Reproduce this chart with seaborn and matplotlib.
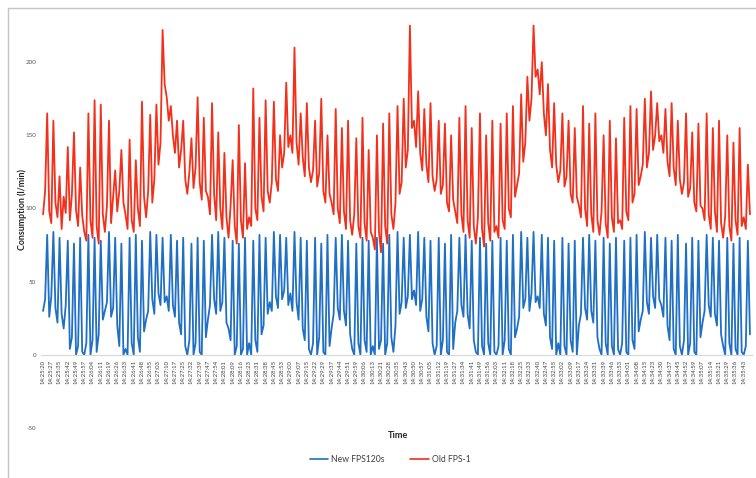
import numpy as np
import pandas as pd
import matplotlib.pyplot as plt
import matplotlib.lines as mlines
import seaborn as sns

# ── data (one sample every ~2 px, 4 samples per tick label)
time_labels = [
    "14:25:20", "14:25:27", "14:25:35", "14:25:42", "14:25:49", "14:25:57",
    "14:26:04", "14:26:11", "14:26:19", "14:26:26", "14:26:33", "14:26:41",
    "14:26:48", "14:26:55", "14:27:03", "14:27:10", "14:27:17", "14:27:25",
    "14:27:32", "14:27:39", "14:27:47", "14:27:54", "14:28:01", "14:28:09",
    "14:28:16", "14:28:23", "14:28:31", "14:28:38", "14:28:45", "14:28:53",
    "14:29:00", "14:29:07", "14:29:15", "14:29:22", "14:29:29", "14:29:37",
    "14:29:44", "14:29:51", "14:29:59", "14:30:06", "14:30:13", "14:30:21",
    "14:30:28", "14:30:35", "14:30:43", "14:30:50", "14:30:57", "14:31:05",
    "14:31:12", "14:31:19", "14:31:27", "14:31:34", "14:31:41", "14:31:49",
    "14:31:56", "14:32:03", "14:32:11", "14:32:18", "14:32:25", "14:32:33",
    "14:32:40", "14:32:47", "14:32:55", "14:33:02", "14:33:09", "14:33:17",
    "14:33:24", "14:33:31", "14:33:39", "14:33:46", "14:33:53", "14:34:01",
    "14:34:08", "14:34:15", "14:34:23", "14:34:30", "14:34:37", "14:34:45",
    "14:34:52", "14:34:59", "14:35:07", "14:35:14", "14:35:21", "14:35:29",
    "14:35:36", "14:35:43",
]

new_fps120s = [
    30, 38, 82, 26, 40, 84, 32, 22, 80, 28, 18, 34, 78, 4, 12, 76, 0, 6, 80, 2,
    0, 8, 82, 0, 10, 80, 2, 14, 78, 24, 30, 36, 84, 26, 32, 80, 20, 6, 76, 0,
    4, 0, 80, 8, 0, 82, 12, 2, 78, 16, 24, 30, 84, 38, 28, 82, 42, 34, 80, 36,
    40, 30, 82, 34, 26, 78, 22, 14, 80, 6, 0, 10, 76, 0, 8, 80, 2, 0, 78, 12,
    24, 34, 82, 38, 28, 84, 30, 36, 80, 22, 18, 10, 78, 0, 6, 76, 0, 4, 80, 0,
    8, 0, 78, 10, 2, 82, 14, 20, 80, 28, 36, 30, 84, 40, 32, 82, 38, 44, 80, 34,
    42, 30, 84, 36, 24, 80, 18, 10, 78, 4, 0, 8, 80, 0, 12, 76, 2, 0, 82, 6,
    18, 28, 80, 32, 24, 82, 30, 20, 78, 14, 4, 0, 76, 8, 0, 80, 10, 2, 78, 0,
    6, 0, 80, 4, 10, 76, 0, 8, 82, 12, 2, 20, 84, 28, 36, 80, 32, 40, 82, 38,
    44, 34, 84, 30, 38, 80, 26, 16, 78, 8, 0, 6, 80, 0, 10, 76, 2, 0, 82, 4,
    22, 30, 80, 34, 26, 82, 28, 18, 78, 10, 2, 0, 80, 6, 0, 76, 8, 0, 78, 2,
    0, 6, 80, 0, 10, 78, 4, 0, 82, 12, 18, 26, 84, 32, 38, 80, 30, 42, 84, 36,
    40, 32, 82, 28, 20, 80, 12, 4, 78, 0, 8, 0, 80, 6, 0, 76, 10, 2, 78, 0,
    20, 28, 80, 32, 24, 82, 30, 22, 78, 12, 4, 0, 80, 8, 0, 76, 6, 0, 80, 4,
    0, 8, 78, 2, 0, 80, 10, 4, 82, 16, 24, 30, 84, 36, 28, 80, 40, 32, 82, 38,
    34, 26, 80, 20, 10, 78, 4, 0, 82, 6, 0, 10, 76, 0, 8, 80, 2, 0, 78, 12,
    22, 30, 82, 34, 26, 80, 28, 20, 78, 14, 6, 0, 80, 8, 0, 76, 4, 0, 80, 2,
    0, 6, 78, 14,
]

old_fps1 = [
    96, 112, 165, 98, 90, 160, 104, 94, 122, 86, 108, 97, 142, 92, 110, 152, 99, 88, 128, 95,
    84, 78, 165, 92, 80, 174, 88, 76, 171, 96, 84, 102, 160, 90, 108, 126, 98, 112, 140, 104,
    96, 86, 147, 92, 84, 133, 100, 88, 173, 108, 94, 112, 164, 104, 120, 171, 130, 145, 222, 185,
    176, 160, 170, 150, 138, 160, 128, 140, 160, 120, 110, 125, 148, 114, 128, 176, 118, 106, 162, 112,
    108, 96, 172, 110, 92, 152, 100, 86, 138, 94, 80, 102, 133, 88, 76, 157, 92, 80, 131, 86,
    94, 88, 182, 100, 92, 162, 108, 98, 174, 112, 104, 118, 173, 120, 112, 150, 128, 138, 186, 142,
    150, 138, 210, 145, 130, 165, 135, 122, 172, 128, 118, 126, 160, 115, 124, 175, 112, 104, 150, 110,
    104, 96, 168, 100, 90, 155, 98, 86, 160, 92, 82, 96, 148, 88, 80, 162, 90, 78, 140, 84,
    80, 72, 150, 84, 70, 158, 88, 76, 165, 96, 86, 104, 170, 110, 118, 175, 128, 140, 225, 155,
    160, 142, 180, 138, 126, 168, 130, 118, 172, 122, 112, 120, 160, 110, 116, 158, 104, 98, 150, 106,
    98, 90, 162, 96, 84, 170, 92, 80, 155, 88, 76, 94, 165, 86, 74, 150, 90, 78, 160, 84,
    88, 80, 158, 92, 86, 165, 100, 94, 170, 108, 116, 124, 178, 132, 145, 190, 160, 175, 225, 190,
    195, 178, 200, 165, 150, 185, 140, 128, 172, 130, 118, 126, 165, 115, 122, 160, 110, 104, 155, 108,
    102, 94, 170, 100, 88, 158, 96, 84, 165, 92, 82, 98, 150, 90, 80, 160, 94, 84, 148, 90,
    92, 86, 162, 98, 92, 170, 104, 110, 168, 116, 122, 130, 175, 128, 138, 180, 140, 150, 172, 146,
    150, 138, 168, 132, 122, 172, 128, 116, 160, 120, 110, 118, 165, 108, 114, 152, 104, 98, 158, 102,
    100, 92, 165, 96, 86, 155, 98, 84, 160, 90, 80, 95, 150, 88, 78, 145, 92, 82, 155, 88,
    94, 86, 130, 96,
]

series_names = ["New FPS120s", "Old FPS-1"]
series_colors = ["#1f6fc5", "#f2301b"]
y_ticks = [-50, 0, 50, 100, 150, 200]

sns.set_theme(style="white")
plt.rcParams['font.family'] = ['Lato', 'DejaVu Sans']
plt.rcParams['axes.unicode_minus'] = False

# ── long format for seaborn
df = pd.DataFrame({
    'sample': np.arange(len(new_fps120s)),
    series_names[0]: new_fps120s,
    series_names[1]: old_fps1,
})
long_df = df.melt(id_vars='sample', var_name='series', value_name='consumption')

fig = plt.figure(figsize=(7.56, 4.78), dpi=100)
ax = fig.add_axes([41 / 756, 50 / 478, 711 / 756, 439 / 478])

sns.lineplot(data=long_df, x='sample', y='consumption', hue='series',
             hue_order=series_names, palette=series_colors,
             linewidth=1.3, ax=ax, legend=False)

# spine position first: moving a spine resets its tick labels
for side in ['top', 'right', 'left']:
    ax.spines[side].set_visible(False)
ax.spines['bottom'].set_position(('data', 0))
ax.spines['bottom'].set_color('#d9d9d9')
ax.spines['bottom'].set_linewidth(0.8)

ax.set_xlim(-1, len(new_fps120s))
ax.set_ylim(-50, 250)
ax.set_yticks(y_ticks)
ax.set_yticklabels([str(v) for v in y_ticks], fontsize=4.5, color='#595959')
ax.set_xticks(range(0, 4 * len(time_labels), 4))
ax.set_xticklabels(time_labels, rotation=90, fontsize=4.3, color='#404040')
ax.set_xlabel('')
ax.set_ylabel('')
ax.tick_params(axis='both', length=2, width=0.6, color='#bfbfbf', pad=1.5)

# ── titles and legend
fig.text(22 / 756, 1 - 210 / 478, 'Consumption (l/min)', rotation=90,
         ha='center', va='center', fontsize=6.4, fontweight='bold', color='#262626')
fig.text(398 / 756, 1 - 436 / 478, 'Time', ha='center', va='center',
         fontsize=6.6, fontweight='bold', color='#262626')

handles = [mlines.Line2D([], [], color=c, lw=1.2) for c in series_colors]
fig.legend(handles, series_names, loc='center', bbox_to_anchor=(0.516, 1 - 460 / 478),
           ncol=2, frameon=False, fontsize=6.2, handlelength=2.2,
           columnspacing=3.0, handletextpad=0.3, labelcolor='#404040')

# chart-area border (left and top edges visible in the crop)
fig.add_artist(mlines.Line2D([7.5 / 756, 7.5 / 756], [0, 1 - 7.5 / 478],
                             transform=fig.transFigure, color='#c4c4c4', lw=1))
fig.add_artist(mlines.Line2D([7.5 / 756, 1], [1 - 7.5 / 478, 1 - 7.5 / 478],
                             transform=fig.transFigure, color='#c4c4c4', lw=1))

fig.savefig('out.png', dpi=100)
